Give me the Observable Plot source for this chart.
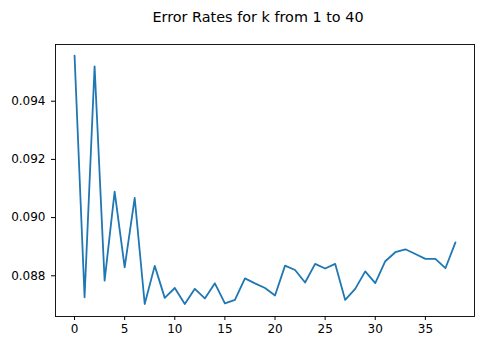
<!DOCTYPE html>
<html>
<head>
<meta charset="utf-8">
<script src="https://cdn.jsdelivr.net/npm/d3@7"></script>
<script src="https://cdn.jsdelivr.net/npm/@observablehq/plot@0.6"></script>
<style>
  body { margin: 0; background: #fff; }
  svg { font-family: "DejaVu Sans", sans-serif; }
</style>
</head>
<body>
<div id="chart"></div>
<script>
const titleText = "Error Rates for k from 1 to 40";
const kIndex = d3.range(0, 39);
const errorRates = [
  0.09557, 0.08726, 0.09520, 0.08783, 0.09089, 0.08829, 0.09068, 0.08703,
  0.08834, 0.08724, 0.08758, 0.08703, 0.08755, 0.08722, 0.08774, 0.08705,
  0.08717, 0.08791, 0.08774, 0.08758, 0.08732, 0.08835, 0.08820, 0.08777,
  0.08841, 0.08825, 0.08841, 0.08717, 0.08755, 0.08815, 0.08775, 0.08850,
  0.08881, 0.08891, 0.08875, 0.08858, 0.08858, 0.08826, 0.08915
];
const xTicks = [0, 5, 10, 15, 20, 25, 30, 35];
const yTicks = [0.088, 0.090, 0.092, 0.094];

const data = kIndex.map((k, i) => ({k, rate: errorRates[i]}));

const chart = Plot.plot({
  width: 488,
  height: 345,
  marginLeft: 55,
  marginRight: 14,
  marginTop: 44,
  marginBottom: 29,
  style: {fontFamily: "DejaVu Sans, sans-serif", fontSize: "12px", color: "#000", background: "#fff"},
  x: {domain: [-1.9, 39.9]},
  y: {domain: [0.0866, 0.09595]},
  marks: [
    Plot.axisX({ticks: xTicks, tickSize: 4, tickPadding: 4, label: null, fontSize: 12}),
    Plot.axisY({ticks: yTicks, tickSize: 4, tickPadding: 6, tickFormat: d3.format(".3f"), label: null, fontSize: 12}),
    Plot.line(data, {x: "k", y: "rate", stroke: "#1f77b4", strokeWidth: 1.8}),
    Plot.frame({stroke: "#000", strokeWidth: 0.9})
  ]
});

d3.select(chart).append("text")
  .attr("x", 258)
  .attr("y", 22)
  .attr("text-anchor", "middle")
  .attr("font-size", 14.4)
  .attr("fill", "#000")
  .text(titleText);

document.getElementById("chart").appendChild(chart);
</script>
</body>
</html>
